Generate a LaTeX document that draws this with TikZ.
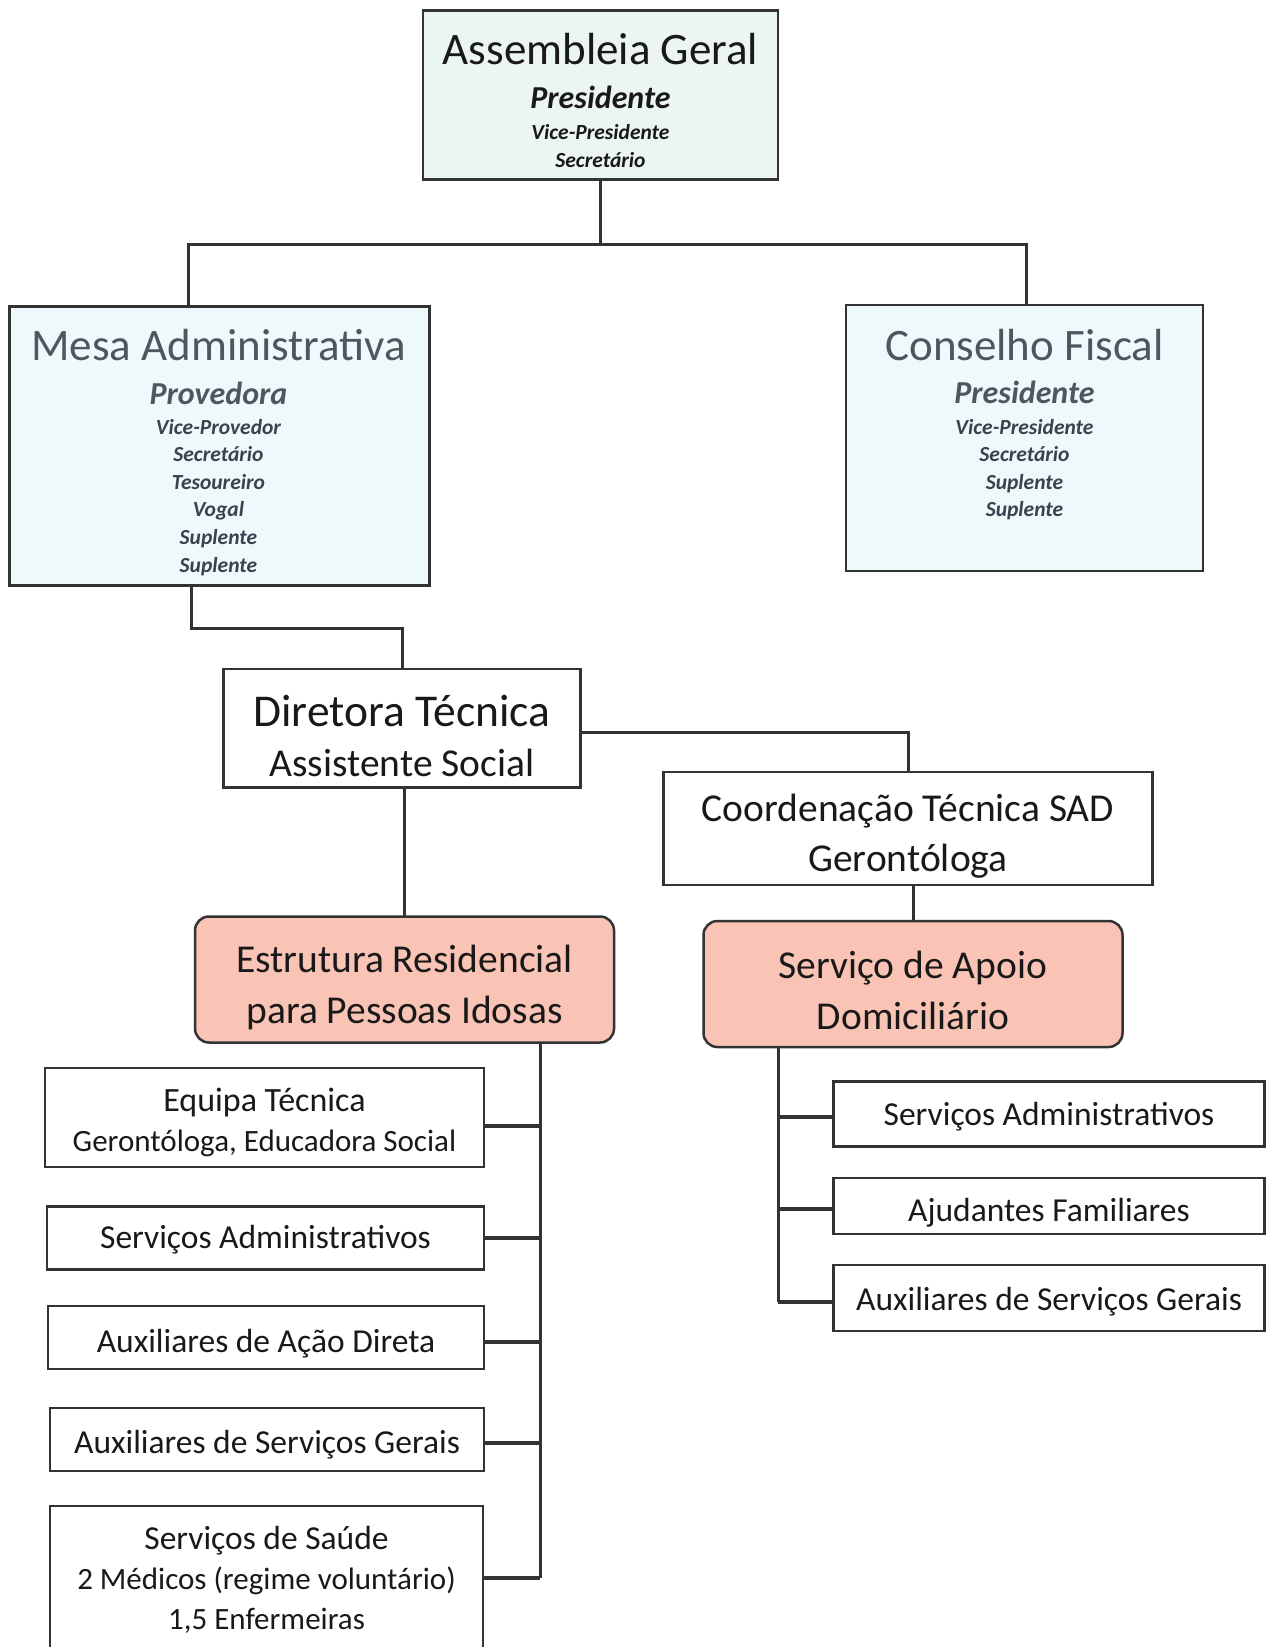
\documentclass[tikz,border=0pt]{standalone}
\usepackage{fontspec}
\setmainfont{Carlito}
\usepackage{xcolor}
\definecolor{myline}{HTML}{333333}
\definecolor{mygreen}{HTML}{EAF6EF}
\definecolor{myblue}{HTML}{EFF8FB}
\definecolor{mysalmon}{HTML}{F9C4B5}
\definecolor{mygray}{HTML}{4E565F}
\definecolor{myslate}{HTML}{3A4250}
\tikzset{
	box/.style={draw=myline,line width=2.5,inner sep=0,outer sep=0,fill=white},
	box top/.style={box,fill=mygreen},
	box board/.style={box,fill=myblue},
	box unit/.style={box,fill=mysalmon,rounded corners=14},
	txt/.style={inner sep=0,align=center,text=black!90},
	txt head/.style={txt,font=\fontsize{39.5}{50}\selectfont},
	txt unit/.style={txt,font=\fontsize{39.5}{51}\selectfont},
	txt staff/.style={txt,font=\fontsize{33.5}{40}\selectfont},
	txt title/.style={anchor=base,inner sep=0,text=black!90,font=\fontsize{45}{50}\selectfont},
	txt board/.style={txt title,text=mygray},
	txt chair/.style={anchor=base,inner sep=0,font=\fontsize{32}{38}\selectfont\bfseries\itshape},
	txt member/.style={anchor=base,inner sep=0,font=\fontsize{21.5}{26}\selectfont\bfseries\itshape},
	connect/.style={line width=3,myline},
	connect branch/.style={line width=4,myline}
}

\begin{document}
\begin{tikzpicture}[x=1pt,y=-1pt]
  \path[use as bounding box,fill=white] (0,0) rectangle (1271,1647);

  % ASSEMBLEIA GERAL
  \node[box top,minimum width=355,minimum height=169] (AG) at (600.5,95) {};
  \node[txt title] (AG-t) at (600.5,64) {Assembleia Geral};
  \node[txt chair,text=black!90] (AG-p) at (600.5,108) {Presidente};
  \foreach \t [count=\i, evaluate={\y=139+28*(\i-1);}] in {Vice-Presidente,Secretário}{
    \node[txt member,text=black!90] (AG-\i) at (600.5,\y) {\t};
  }

  % MESA ADMINISTRATIVA
  \node[box board,minimum width=420,minimum height=279] (MA) at (219.5,446) {};
  \node[txt board] (MA-t) at (218.5,360) {Mesa Administrativa};
  \node[txt chair,text=mygray] (MA-p) at (218.5,404) {Provedora};
  \foreach \t [count=\i, evaluate={\y=434+27.6*(\i-1);}] in {Vice-Provedor,Secretário,Tesoureiro,Vogal,Suplente,Suplente}{
    \node[txt member,text=myslate] (MA-\i) at (218.5,\y) {\t};
  }

  % CONSELHO FISCAL
  \node[box board,minimum width=357,minimum height=266] (CF) at (1024.5,438) {};
  \node[txt board] (CF-t) at (1024.5,360) {Conselho Fiscal};
  \node[txt chair,text=mygray] (CF-p) at (1024.5,403) {Presidente};
  \foreach \t [count=\i, evaluate={\y=434+27.6*(\i-1);}] in {Vice-Presidente,Secretário,Suplente,Suplente}{
    \node[txt member,text=myslate] (CF-\i) at (1024.5,\y) {\t};
  }

  % DIRECAO TECNICA
  \node[box,minimum width=357,minimum height=118.5] (DT) at (402,728) {};
  \node[txt head] (DT-t) at ([yshift=-7.5]DT.center)
    {{\fontsize{45.5}{50}\selectfont Diretora Técnica}\\Assistente Social};
  \node[box,minimum width=489,minimum height=113] (CT) at (908,828.5) {};
  \node[txt head] (CT-t) at ([yshift=-8]CT.center) {Coordenação Técnica SAD\\Gerontóloga};

  % RESPOSTAS SOCIAIS
  \node[box unit,minimum width=419,minimum height=126] (ER) at (404.5,979.5) {};
  \node[txt unit] (ER-t) at ([yshift=-8]ER.center) {Estrutura Residencial\\para Pessoas Idosas};
  \node[box unit,minimum width=419,minimum height=126] (SA) at (913,984) {};
  \node[txt unit] (SA-t) at ([yshift=-6]SA.center) {Serviço de Apoio\\Domiciliário};

  % EQUIPAS ERPI
  \node[box,minimum width=439,minimum height=99] (ER-1) at (264.5,1117.5) {};
  \node[txt staff,font=\fontsize{31}{40}\selectfont] (ER-1-t) at ([yshift=-5]ER-1.center)
    {{\fontsize{34}{40}\selectfont Equipa Técnica}\\Gerontóloga, Educadora Social};
  \node[box,minimum width=437,minimum height=63] (ER-2) at (265.5,1238) {};
  \node[txt staff] (ER-2-t) at ([yshift=-2]ER-2.center) {Serviços Administrativos};
  \node[box,minimum width=436,minimum height=63] (ER-3) at (266,1337.5) {};
  \node[txt staff] (ER-3-t) at ([yshift=-6]ER-3.center) {Auxiliares de Ação Direta};
  \node[box,minimum width=434,minimum height=63] (ER-4) at (267,1439.5) {};
  \node[txt staff] (ER-4-t) at ([yshift=-5]ER-4.center) {Auxiliares de Serviços Gerais};
  \node[box,minimum width=433,minimum height=144] (ER-5) at (266.5,1578) {};
  \node[txt staff,font=\fontsize{31}{40}\selectfont] (ER-5-t) at ([yshift=-2]ER-5.center)
    {{\fontsize{33.5}{40}\selectfont Serviços de Saúde}\\2 Médicos (regime voluntário)\\1,5 Enfermeiras};

  % EQUIPAS SAD
  \foreach \t/\y/\h/\s [count=\i] in {Serviços Administrativos/1114/65/3,Ajudantes Familiares/1206/56/7,Auxiliares de Serviços Gerais/1298/66/4}{
    \node[box,minimum width=431,minimum height=\h] (SA-\i) at (1049,\y) {};
    \node[txt staff] (SA-\i-t) at ([yshift=-\s]SA-\i.center) {\t};
  }

  % CONNECTORS
  \coordinate (J-ma) at (188,244);
  \coordinate (J-cf) at (1026,244);
  \draw[connect] (AG.south) -- (AG.south |- J-ma);
  \draw[connect] (J-ma |- MA.north) -- (J-ma) -- (J-cf) -- (J-cf |- CF.north);
  \coordinate (J-dt) at (191,628);
  \draw[connect] (J-dt |- MA.south) -- (J-dt) -| (DT.north);
  \draw[connect] (DT.east) ++(0,4) coordinate (dt-r) -| (CT.north);
  \draw[connect] (ER.north |- DT.south) -- (ER.north);
  \draw[connect] (SA.north |- CT.south) -- (SA.north);

  \coordinate (B-er) at (540,0);
  \foreach \i/\s in {1/8,2/0,3/4,4/3,5/0}
    \draw[connect branch] (ER-\i.east) ++(0,\s) coordinate (er-br-\i) -- (er-br-\i -| B-er);
  \draw[connect] (B-er |- ER.south) -- (B-er |- er-br-5);

  \coordinate (B-sa) at (778,0);
  \foreach \i/\s in {1/3,2/3,3/4}
    \draw[connect branch] (SA-\i.west) ++(0,\s) coordinate (sa-br-\i) -- (sa-br-\i -| B-sa);
  \draw[connect] (B-sa |- SA.south) -- (B-sa |- sa-br-3);
\end{tikzpicture}
\end{document}
